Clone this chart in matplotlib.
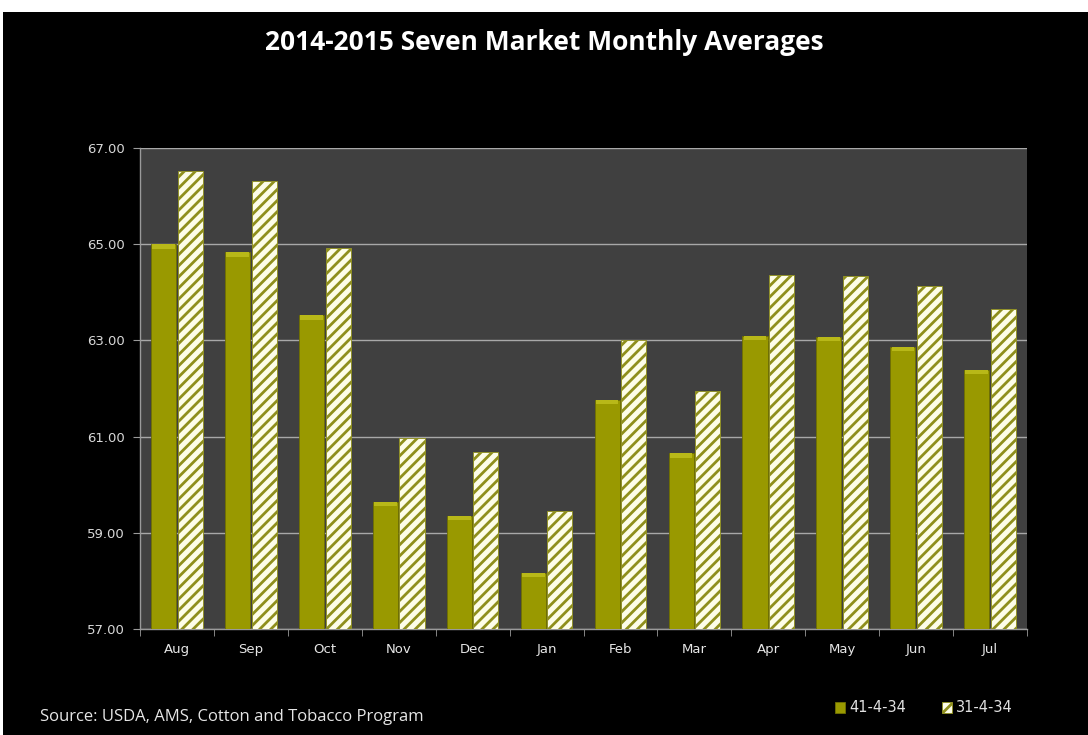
import numpy as np
import matplotlib
matplotlib.use("Agg")
import matplotlib.pyplot as plt
from matplotlib.patches import Rectangle

months = ["Aug", "Sep", "Oct", "Nov", "Dec", "Jan", "Feb", "Mar", "Apr", "May", "Jun", "Jul"]
grade_41 = [65.00, 64.83, 63.52, 59.65, 59.35, 58.17, 61.76, 60.65, 63.10, 63.08, 62.87, 62.39]
grade_31 = [66.53, 66.31, 64.93, 60.97, 60.67, 59.46, 63.00, 61.94, 64.36, 64.34, 64.13, 63.66]
series_names = ["41-4-34", "31-4-34"]
yticks = [57, 59, 61, 63, 65, 67]

plt.rcParams['hatch.linewidth'] = 2.0

fig = plt.figure(figsize=(10.88, 7.35), dpi=100, facecolor="white")
# black slide background with thin white margin like the screenshot
fig.patches.append(Rectangle((3/1088, 0), 1, (735-12)/735, transform=fig.transFigure,
                             facecolor="black", edgecolor="none", zorder=-10))

ax = fig.add_axes([140/1088, 106/735, 887/1088, 481/735])
ax.set_facecolor("#404040")

x = np.arange(len(months))
w = 0.34
olive = "#999900"
b1 = ax.bar(x - w/2 - 0.01, np.array(grade_41) - 57, w, bottom=57, color=olive,
            edgecolor="#707000", linewidth=0.6, zorder=3)
# lighter cap on top of the solid bars
ax.bar(x - w/2 - 0.01, 0.09, w * 0.9, bottom=np.array(grade_41) - 0.09, color="#b8b818",
       edgecolor="none", zorder=4)
b2 = ax.bar(x + w/2 + 0.01, np.array(grade_31) - 57, w, bottom=57, color="#fdfde8",
            edgecolor="#8f8f1c", hatch="///", linewidth=0.6, zorder=3)

ax.set_xlim(-0.5, len(months) - 0.5)
ax.set_ylim(57, 67)
ax.set_yticks(yticks)
ax.set_yticklabels([f"{v:.2f}" for v in yticks], color="#d8d8d8", fontsize=9.5,
                   family="DejaVu Sans")
ax.set_xticks(x)
ax.set_xticklabels(months, color="#e6e6e6", fontsize=9.5, family="DejaVu Sans")
ax.set_xticks(np.arange(len(months) + 1) - 0.5, minor=True)
ax.tick_params(axis="x", which="major", length=0, pad=10)
ax.tick_params(axis="x", which="minor", length=5, color="#9a9a9a", direction="out")
ax.tick_params(axis="y", length=5, color="#9a9a9a", direction="out", pad=6)

ax.grid(axis="y", color="#a8a8a8", linewidth=1, zorder=1)
ax.set_axisbelow(True)
for s in ["top", "right"]:
    ax.spines[s].set_visible(False)
for s in ["left", "bottom"]:
    ax.spines[s].set_color("#9a9a9a")
    ax.spines[s].set_linewidth(1)

fig.text(0.5, 1 - 42/735, "2014-2015 Seven Market Monthly Averages", ha="center", va="center",
         color="white", fontsize=19, fontweight="bold", family="Open Sans")
fig.text(40/1088, 1 - 717/735, "Source: USDA, AMS, Cotton and Tobacco Program", ha="left",
         va="center", color="#e6e6e6", fontsize=12, family="Open Sans")

leg = fig.legend([b1, b2], series_names, loc="center", bbox_to_anchor=(924/1088, 1 - 708/735),
                 ncol=2, frameon=False, fontsize=10.5, handlelength=0.7, handleheight=0.7,
                 handletextpad=0.3, columnspacing=2.4)
for t in leg.get_texts():
    t.set_color("#e0e0e0")

fig.savefig("out.png", dpi=100, facecolor=fig.get_facecolor())
